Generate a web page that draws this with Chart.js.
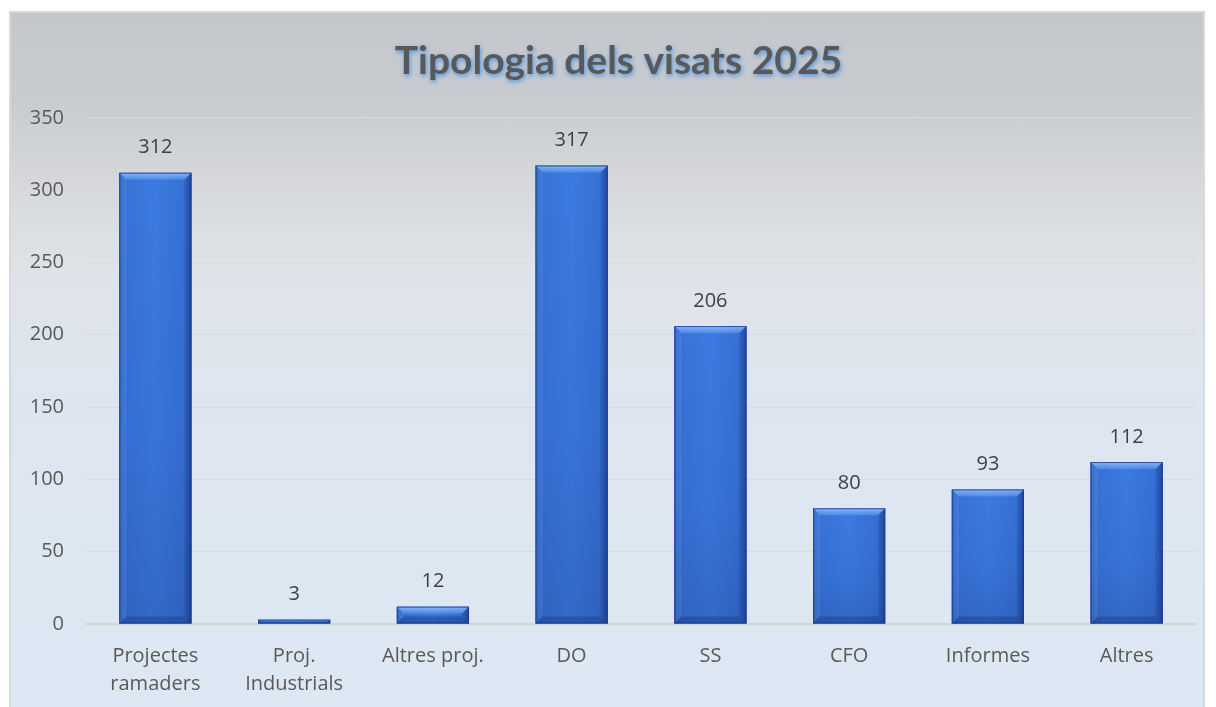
<!DOCTYPE html>
<html>
<head>
<meta charset="utf-8">
<script src="https://cdn.jsdelivr.net/npm/chart.js@4.4.1/dist/chart.umd.min.js"></script>
<style>
  html, body { margin: 0; padding: 0; background: #ffffff; width: 1216px; height: 707px; overflow: hidden; }
  #wrap {
    position: absolute; left: 9px; top: 11px; width: 1196px; height: 715px;
    border-left: 2px solid #d9d9d9; border-top: 2px solid #d9d9d9; border-right: 2px solid #d9d9d9;
    box-sizing: border-box;
    background: linear-gradient(to bottom, #c3c7cc 0%, #c8cbd0 12%, #d6d8db 24%, #dfe3e8 36%, #dde6f0 55%, #dde8f4 100%);
  }
  canvas { display: block; }
</style>
</head>
<body>
<div id="wrap"><canvas id="c"></canvas></div>
<script>
const categories = [["Projectes", "ramaders"], ["Proj.", "Industrials"], "Altres proj.", "DO", "SS", "CFO", "Informes", "Altres"];
const values = [312, 3, 12, 317, 206, 80, 93, 112];
const yTicks = [0, 50, 100, 150, 200, 250, 300, 350];
const titleText = "Tipologia dels visats 2025";

const TITLE_FONT = "Lato, 'Open Sans', sans-serif";
const FONT = "'Open Sans', Lato, sans-serif";

const bevelPlugin = {
  id: 'bevel',
  afterDatasetsDraw(chart) {
    const ctx = chart.ctx;
    const meta = chart.getDatasetMeta(0);
    meta.data.forEach((bar) => {
      const l = bar.x - bar.width / 2, r = bar.x + bar.width / 2;
      const t = bar.y, b = bar.base;
      const h = b - t;
      if (!isFinite(l) || !isFinite(t) || h <= 0) return;
      const bv = Math.min(7, h / 2);
      ctx.save();
      const g = ctx.createLinearGradient(l, 0, r, 0);
      g.addColorStop(0, '#2b5cbf');
      g.addColorStop(0.08, '#3873d8');
      g.addColorStop(0.5, '#3b7be0');
      g.addColorStop(0.92, '#3670d5');
      g.addColorStop(1, '#2352b0');
      ctx.fillStyle = g;
      ctx.fillRect(l, t, r - l, h);
      const vg = ctx.createLinearGradient(0, t, 0, b);
      vg.addColorStop(0, 'rgba(20,40,110,0)');
      vg.addColorStop(0.6, 'rgba(20,40,110,0.08)');
      vg.addColorStop(1, 'rgba(20,40,110,0.22)');
      ctx.fillStyle = vg;
      ctx.fillRect(l, t, r - l, h);
      const tg = ctx.createLinearGradient(0, t, 0, t + bv);
      tg.addColorStop(0, 'rgba(170,210,255,0.75)');
      tg.addColorStop(1, 'rgba(120,175,250,0.35)');
      ctx.beginPath();
      ctx.moveTo(l, t); ctx.lineTo(r, t); ctx.lineTo(r - bv, t + bv); ctx.lineTo(l + bv, t + bv); ctx.closePath();
      ctx.fillStyle = tg;
      ctx.fill();
      ctx.beginPath();
      ctx.moveTo(l, t); ctx.lineTo(l + bv, t + bv); ctx.lineTo(l + bv, b - bv); ctx.lineTo(l, b); ctx.closePath();
      ctx.fillStyle = 'rgba(120,170,240,0.18)';
      ctx.fill();
      ctx.beginPath();
      ctx.moveTo(r, t); ctx.lineTo(r - bv, t + bv); ctx.lineTo(r - bv, b - bv); ctx.lineTo(r, b); ctx.closePath();
      ctx.fillStyle = 'rgba(10,30,90,0.18)';
      ctx.fill();
      ctx.beginPath();
      ctx.moveTo(l, b); ctx.lineTo(r, b); ctx.lineTo(r - bv, b - bv); ctx.lineTo(l + bv, b - bv); ctx.closePath();
      ctx.fillStyle = 'rgba(10,30,90,0.25)';
      ctx.fill();
      ctx.strokeStyle = 'rgba(25,55,140,0.8)';
      ctx.lineWidth = 1;
      ctx.strokeRect(l + 0.5, t + 0.5, r - l - 1, h - 1);
      ctx.restore();
    });
  }
};

const labelPlugin = {
  id: 'valueLabels',
  afterDatasetsDraw(chart) {
    const ctx = chart.ctx;
    const meta = chart.getDatasetMeta(0);
    ctx.save();
    ctx.font = "20px " + FONT;
    ctx.fillStyle = '#404040';
    ctx.textAlign = 'center';
    ctx.textBaseline = 'middle';
    meta.data.forEach((bar, i) => {
      ctx.fillText(String(values[i]), bar.x, bar.y - 25);
    });
    ctx.restore();
  }
};

const titleShadowPlugin = {
  id: 'titleShadow',
  afterLayout(chart) {
    const tb = chart.titleBlock;
    if (tb && !tb._shadowWrapped) {
      const orig = tb.draw;
      tb.draw = function (area) {
        const ctx = this.ctx;
        ctx.save();
        ctx.translate(9, 0);
        ctx.shadowColor = 'rgba(60,140,230,0.85)';
        ctx.shadowBlur = 4;
        ctx.shadowOffsetX = 1;
        ctx.shadowOffsetY = 2;
        orig.call(this, area);
        ctx.restore();
      };
      tb._shadowWrapped = true;
    }
  }
};

new Chart(document.getElementById('c'), {
  type: 'bar',
  data: {
    labels: categories,
    datasets: [{
      data: values,
      backgroundColor: '#3a78dd',
      borderWidth: 0,
      barPercentage: 0.52,
      categoryPercentage: 1.0
    }]
  },
  options: {
    responsive: true,
    maintainAspectRatio: false,
    animation: false,
    layout: { padding: { left: 12, right: 7, top: 0, bottom: 10 } },
    plugins: {
      legend: { display: false },
      tooltip: { enabled: false },
      title: {
        display: true,
        text: titleText,
        color: '#595959',
        font: { family: TITLE_FONT, size: 39, weight: 'bold', lineHeight: 1.2 },
        padding: { top: 25, bottom: 33 }
      }
    },
    scales: {
      x: {
        grid: { display: false, drawTicks: false },
        border: { display: true, color: '#d4d4d4', width: 2 },
        ticks: {
          color: '#595959',
          font: { family: FONT, size: 20, lineHeight: 1.4 },
          padding: 18,
          maxRotation: 0,
          autoSkip: false
        }
      },
      y: {
        min: 0, max: 350,
        afterBuildTicks(scale) { scale.ticks = yTicks.map(v => ({ value: v })); },
        afterFit(scale) { scale.width = 63; },
        grid: { color: 'rgba(217,217,217,0.95)', lineWidth: 1, drawTicks: false },
        border: { display: false },
        ticks: {
          color: '#595959',
          font: { family: FONT, size: 20 },
          padding: 22
        }
      }
    }
  },
  plugins: [bevelPlugin, labelPlugin, titleShadowPlugin]
});
</script>
</body>
</html>
